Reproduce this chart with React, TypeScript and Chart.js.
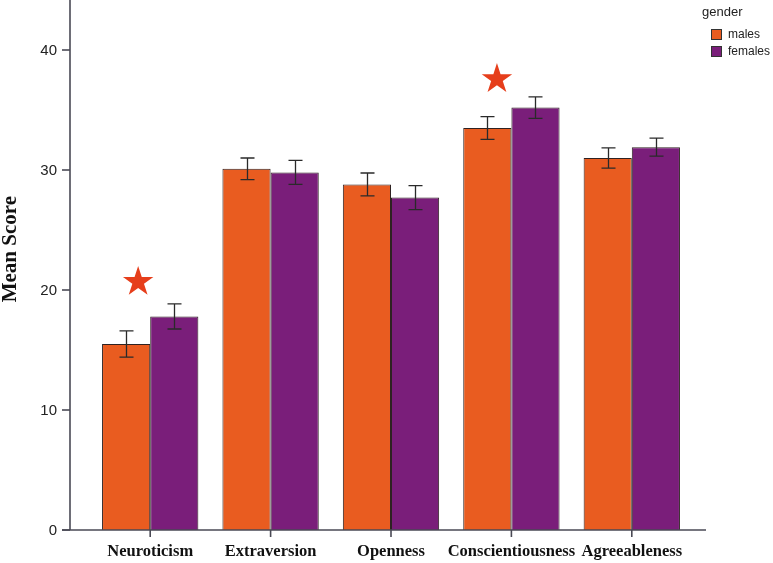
import React, { useEffect, useRef } from "react";
import { Chart, registerables } from "chart.js";

Chart.register(...registerables);

const categories = ["Neuroticism", "Extraversion", "Openness", "Conscientiousness", "Agreeableness"];
const seriesNames = ["males", "females"];
const malesMean = [15.5, 30.1, 28.8, 33.5, 31.0];
const femalesMean = [17.8, 29.8, 27.7, 35.2, 31.9];
const malesErr = [1.1, 0.9, 0.95, 0.95, 0.85];
const femalesErr = [1.05, 1.0, 1.0, 0.9, 0.75];
const yTicks = [0, 10, 20, 30, 40];
const starCategory = [0, 3];
const starShift = [-0.1, -0.12];
const starY = [20.8, 37.7];
const legendTitle = "gender";
const yTitle = "Mean Score";

const ORANGE = "#E95C20";
const PURPLE = "#7A1E7A";
const STAR = "#E63E1B";
const AXIS = "#4a4a55";

function drawStar(ctx: CanvasRenderingContext2D, cx: number, cy: number, r: number, color: string) {
  const inner = r * 0.382;
  ctx.beginPath();
  for (let i = 0; i < 10; i++) {
    const rad = i % 2 === 0 ? r : inner;
    const a = -Math.PI / 2 + (i * Math.PI) / 5;
    const px = cx + rad * Math.cos(a);
    const py = cy + rad * Math.sin(a);
    if (i === 0) ctx.moveTo(px, py);
    else ctx.lineTo(px, py);
  }
  ctx.closePath();
  ctx.fillStyle = color;
  ctx.fill();
}

const decorPlugin = {
  id: "decor",
  afterDatasetsDraw(chart: any) {
    const { ctx, chartArea } = chart;
    const y = chart.scales.y;
    const x = chart.scales.x;
    const errs = [malesErr, femalesErr];
    const means = [malesMean, femalesMean];
    ctx.save();
    // error bars
    ctx.strokeStyle = "#2a2a2a";
    ctx.lineWidth = 1.3;
    for (let d = 0; d < 2; d++) {
      const meta = chart.getDatasetMeta(d);
      meta.data.forEach((bar: any, i: number) => {
        const top = y.getPixelForValue(means[d][i] + errs[d][i]);
        const bot = y.getPixelForValue(means[d][i] - errs[d][i]);
        const bx = Math.round(bar.x) + 0.5;
        const hw = 7;
        ctx.beginPath();
        ctx.moveTo(bx, top);
        ctx.lineTo(bx, bot);
        ctx.moveTo(bx - hw, top);
        ctx.lineTo(bx + hw, top);
        ctx.moveTo(bx - hw, bot);
        ctx.lineTo(bx + hw, bot);
        ctx.stroke();
      });
    }
    // significance stars
    const catW = x.getPixelForValue(1) - x.getPixelForValue(0);
    starCategory.forEach((c, i) => {
      const sx = x.getPixelForValue(c) + starShift[i] * catW;
      drawStar(ctx, sx, y.getPixelForValue(starY[i]) + 1.5, 16, STAR);
    });
    // axes
    const yAxisX = chartArea.left - 20;
    const base = y.getPixelForValue(0);
    ctx.strokeStyle = AXIS;
    ctx.lineWidth = 1.6;
    ctx.beginPath();
    ctx.moveTo(yAxisX, 0);
    ctx.lineTo(yAxisX, base);
    ctx.moveTo(yAxisX - 8, base);
    ctx.lineTo(chartArea.right + 14, base);
    ctx.stroke();
    ctx.fillStyle = "#222";
    ctx.font = "15px 'Liberation Sans', Arial, sans-serif";
    ctx.textAlign = "right";
    ctx.textBaseline = "middle";
    yTicks.forEach((t) => {
      const py = y.getPixelForValue(t);
      ctx.beginPath();
      ctx.moveTo(yAxisX - 8, py);
      ctx.lineTo(yAxisX, py);
      ctx.stroke();
      ctx.fillText(String(t), yAxisX - 13, py + 1);
    });
    // x ticks and labels
    ctx.font = "bold 16.5px 'Liberation Serif', 'Times New Roman', serif";
    ctx.textAlign = "center";
    ctx.fillStyle = "#111";
    categories.forEach((c, i) => {
      const px = x.getPixelForValue(i);
      ctx.beginPath();
      ctx.moveTo(px, base);
      ctx.lineTo(px, base + 7);
      ctx.stroke();
      ctx.fillText(c, px, base + 22);
    });
    // y title
    ctx.save();
    ctx.translate(11, y.getPixelForValue(23.4));
    ctx.rotate(-Math.PI / 2);
    ctx.font = "bold 21px 'Liberation Serif', 'Times New Roman', serif";
    ctx.fillText(yTitle, 0, 0);
    ctx.restore();
    // legend
    ctx.textAlign = "left";
    ctx.fillStyle = "#222";
    ctx.font = "13px 'Liberation Sans', Arial, sans-serif";
    ctx.fillText(legendTitle, 702, 12);
    const cols = [ORANGE, PURPLE];
    ctx.font = "12px 'Liberation Sans', Arial, sans-serif";
    ctx.lineWidth = 1;
    ctx.strokeStyle = "#333";
    seriesNames.forEach((n, i) => {
      const by = 29 + i * 17;
      ctx.fillStyle = cols[i];
      ctx.fillRect(711, by, 11, 11);
      ctx.strokeRect(711.5, by + 0.5, 10, 10);
      ctx.fillStyle = "#222";
      ctx.fillText(n, 728, by + 6);
    });
    ctx.restore();
  },
};

export default function App() {
  const ref = useRef<HTMLCanvasElement>(null);
  useEffect(() => {
    const chart = new Chart(ref.current!, {
      type: "bar",
      data: {
        labels: categories,
        datasets: [
          {
            label: seriesNames[0],
            data: malesMean,
            backgroundColor: ORANGE,
            borderColor: "#2e2222",
            borderWidth: 1,
            categoryPercentage: 0.8,
            barPercentage: 1.0,
          } as any,
          {
            label: seriesNames[1],
            data: femalesMean,
            backgroundColor: PURPLE,
            borderColor: "#2e2222",
            borderWidth: 1,
            categoryPercentage: 0.8,
            barPercentage: 1.0,
          } as any,
        ],
      },
      options: {
        responsive: false,
        animation: false,
        devicePixelRatio: 1,
        layout: { padding: { left: 90, right: 81, top: 2, bottom: 33 } },
        plugins: { legend: { display: false }, tooltip: { enabled: false } },
        scales: {
          x: { type: "category", display: false, offset: true },
          y: { display: false, min: 0, max: 44 },
        },
      } as any,
      plugins: [decorPlugin],
    });
    return () => chart.destroy();
  }, []);
  return (
    <div style={{ position: "absolute", left: 0, top: 0, width: 773, height: 563, background: "#fff" }}>
      <canvas ref={ref} width={773} height={563} />
    </div>
  );
}
